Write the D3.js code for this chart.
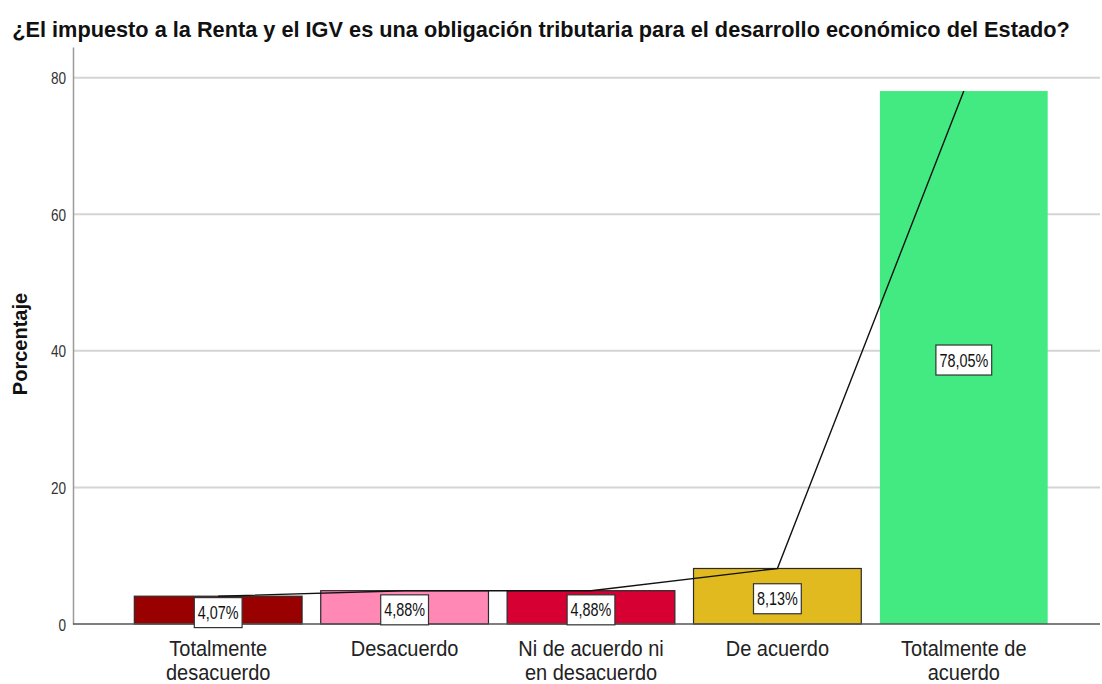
<!DOCTYPE html>
<html>
<head>
<meta charset="utf-8">
<script src="https://cdn.jsdelivr.net/npm/d3@7/dist/d3.min.js"></script>
<style>
  html, body { margin: 0; padding: 0; background: #fff; }
  svg { display: block; font-family: "Liberation Sans", Arial, sans-serif; }
</style>
</head>
<body>
<svg id="chart" width="1102" height="684"></svg>
<script>
// Survey answers and their share of respondents (%)
const categories = [
  ["Totalmente", "desacuerdo"],
  ["Desacuerdo"],
  ["Ni de acuerdo ni", "en desacuerdo"],
  ["De acuerdo"],
  ["Totalmente de", "acuerdo"]
];
const percentages = [4.07, 4.88, 4.88, 8.13, 78.05];
const valueLabels = ["4,07%", "4,88%", "4,88%", "8,13%", "78,05%"];
const barColors = ["#990000", "#ff88b4", "#d70033", "#e0ba1f", "#43ea81"];
const barOutlined = [true, true, true, true, false];
const yTicks = [0, 20, 40, 60, 80];
const titleText = "¿El impuesto a la Renta y el IGV es una obligación tributaria para el desarrollo económico del Estado?";
const yTitle = "Porcentaje";

const svg = d3.select("#chart");
const plot = { left: 73, right: 1100, top: 47, bottom: 624 };

const ids = d3.range(categories.length);
const x = d3.scaleBand()
  .domain(ids)
  .range([125, 1057])
  .paddingInner(0.1)
  .paddingOuter(0.05);

const y = d3.scaleLinear()
  .domain([0, 84.5])
  .range([plot.bottom, plot.top]);

// horizontally condensed text helper
function condensedText(g, str, px, py, opts) {
  return g.append("text")
    .attr("transform", `translate(${px},${py}) scale(${opts.sx || 1},1)`)
    .attr("text-anchor", opts.anchor || "middle")
    .style("font-size", opts.size + "px")
    .style("font-weight", opts.weight || "normal")
    .attr("fill", opts.fill || "#222")
    .text(str);
}

// Title, condensed to span the header width
const title = condensedText(svg, titleText, 541, 37, { size: 22, weight: "bold", fill: "#111" });
const titleW = title.node().getComputedTextLength();
title.attr("transform", `translate(541,37) scale(${1058 / titleW},1)`);

// Gridlines
svg.append("g")
  .attr("class", "grid")
  .selectAll("line")
  .data(yTicks.filter(d => d > 0))
  .join("line")
  .attr("x1", plot.left)
  .attr("x2", plot.right)
  .attr("y1", d => y(d))
  .attr("y2", d => y(d))
  .attr("stroke", "#d4d4d4")
  .attr("stroke-width", 2);

// Y axis line via d3 axis
const yg = svg.append("g")
  .attr("transform", `translate(${plot.left},0)`)
  .call(d3.axisLeft(y).tickValues(yTicks).tickSize(0).tickFormat(""));
yg.select(".domain").attr("stroke", "#9a9a9a").attr("stroke-width", 1.5);
yg.selectAll(".tick").remove();

// Y tick labels
const yLab = svg.append("g");
yTicks.forEach(v => {
  condensedText(yLab, String(v), 66, y(v) + 6.5, { size: 17, sx: 0.8, anchor: "end", fill: "#333" });
});

// Y axis title
svg.append("text")
  .attr("transform", `translate(27,344) rotate(-90)`)
  .attr("text-anchor", "middle")
  .style("font-size", "20px")
  .style("font-weight", "bold")
  .attr("fill", "#111")
  .text(yTitle);

// Bars
svg.append("g")
  .selectAll("rect")
  .data(ids)
  .join("rect")
  .attr("x", i => x(i))
  .attr("y", i => y(percentages[i]))
  .attr("width", x.bandwidth())
  .attr("height", i => y(0) - y(percentages[i]))
  .attr("fill", i => barColors[i])
  .attr("stroke", i => barOutlined[i] ? "#2a2a2a" : "none")
  .attr("stroke-width", 1.2);

// X axis baseline
svg.append("line")
  .attr("x1", plot.left)
  .attr("x2", plot.right)
  .attr("y1", y(0))
  .attr("y2", y(0))
  .attr("stroke", "#555")
  .attr("stroke-width", 1.5);

// Line joining the bar tops
const line = d3.line()
  .x(i => x(i) + x.bandwidth() / 2)
  .y(i => y(percentages[i]));
svg.append("path")
  .datum(ids)
  .attr("d", line)
  .attr("fill", "none")
  .attr("stroke", "#111")
  .attr("stroke-width", 1.4);

// Value labels in boxes at mid-height of each bar
const lbl = svg.append("g");
ids.forEach(i => {
  const cx = x(i) + x.bandwidth() / 2;
  const cy = y(percentages[i] / 2) + 2.5;
  const g = lbl.append("g");
  const t = condensedText(g, valueLabels[i], cx, cy + 6.5, { size: 18, sx: 0.8, fill: "#111" });
  const w = t.node().getComputedTextLength() * 0.8;
  g.insert("rect", "text")
    .attr("x", cx - w / 2 - 3.5)
    .attr("y", cy - 15)
    .attr("width", w + 7)
    .attr("height", 30)
    .attr("fill", "#fff")
    .attr("stroke", "#333")
    .attr("stroke-width", 1.2);
});

// Category labels
const xl = svg.append("g");
ids.forEach(i => {
  const cx = x(i) + x.bandwidth() / 2;
  categories[i].forEach((ln, k) => {
    condensedText(xl, ln, cx, 656 + k * 23.5, { size: 21.5, sx: 0.93, fill: "#222" });
  });
});
</script>
</body>
</html>
